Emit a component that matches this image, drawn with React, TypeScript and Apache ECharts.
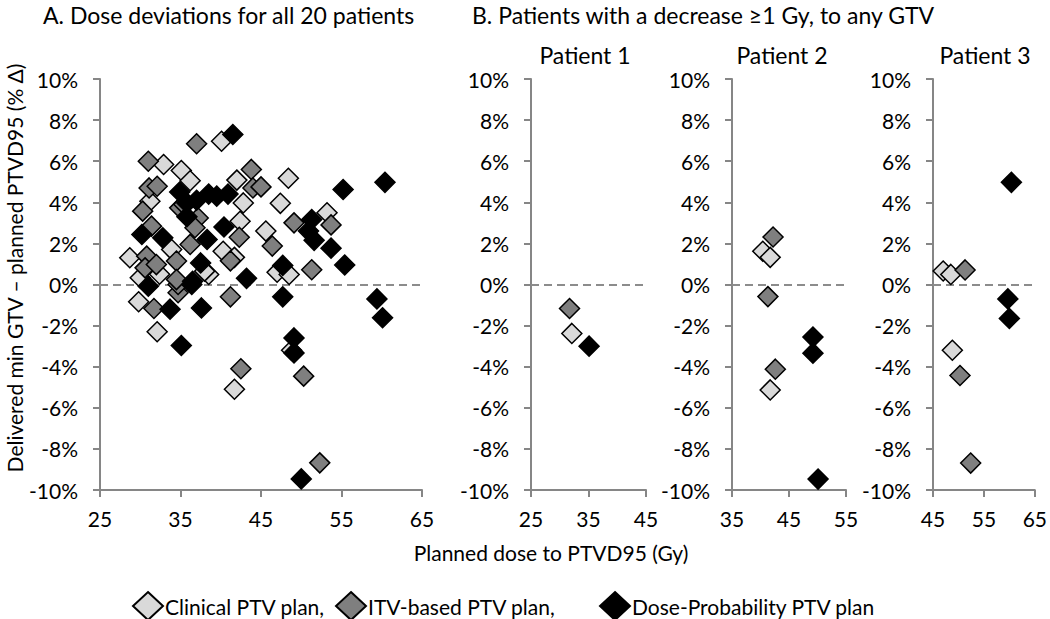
import React, { useEffect, useRef } from "react";
import * as echarts from "echarts";

// Panel A: all 20 patients (x = planned dose Gy, y = % deviation)
const clinicalAll: number[][] = [
  [29.8, -0.84], [32.1, -2.3], [41.7, -5.1], [48.8, -3.2], [40.1, 6.97], [32.9, 5.84],
  [35.1, 5.55], [36.2, 5.05], [31.2, 4.05], [42.0, 5.08], [48.4, 5.17], [42.8, 3.97],
  [47.4, 3.95], [42.4, 3.08], [45.6, 2.6], [53.2, 3.49], [40.3, 1.62], [41.7, 1.32],
  [38.5, 0.49], [47.0, 0.6], [48.5, 0.49], [28.7, 1.3], [30.0, 0.33], [33.9, 1.7],
  [32.4, 0.5], [38.0, 0.65],
];
const itvAll: number[][] = [
  [31.7, -1.17], [34.7, -0.4], [34.7, 0.0], [41.2, -0.6], [42.5, -4.1], [50.3, -4.46],
  [52.3, -8.68], [37.0, 6.85], [43.8, 5.6], [44.0, 4.7], [45.0, 4.75], [31.0, 6.0],
  [31.1, 4.7], [32.1, 4.78], [30.3, 3.57], [34.9, 3.73], [37.2, 3.24], [42.3, 2.3],
  [46.4, 1.87], [49.1, 3.0], [53.7, 2.9], [51.3, 0.72], [41.2, 1.15], [30.8, 1.38],
  [30.6, 0.81], [32.0, 0.97], [34.5, 1.14], [35.4, 3.9], [36.8, 2.76], [36.2, 1.95],
  [34.5, 0.24], [31.4, 2.84],
];
const dpAll: number[][] = [
  [31.0, -0.08], [33.7, -1.2], [36.4, 0.0], [37.6, -1.14], [35.1, -2.97], [43.2, 0.3],
  [47.7, -0.6], [49.1, -2.6], [49.1, -3.33], [50.0, -9.46], [59.4, -0.7], [60.1, -1.62],
  [60.4, 4.97], [41.5, 7.3], [55.2, 4.62], [38.5, 4.4], [40.9, 4.4], [34.9, 4.5],
  [35.8, 3.97], [37.0, 4.1], [39.5, 4.3], [35.8, 3.3], [40.4, 2.8], [38.3, 2.19],
  [30.2, 2.43], [32.8, 2.27], [37.5, 1.05], [36.5, 0.16], [51.3, 3.16], [50.9, 2.6],
  [51.6, 2.15], [53.7, 1.77], [55.4, 0.95], [47.7, 0.93],
];

// Panel B: patients with a decrease >= 1 Gy
const p1Clinical = [[32.1, -2.38]];
const p1Itv = [[31.7, -1.17]];
const p1Dp = [[35.1, -3.0]];
const p2Clinical = [[40.4, 1.62], [41.7, 1.32], [41.7, -5.13]];
const p2Itv = [[42.2, 2.31], [41.3, -0.59], [42.6, -4.12]];
const p2Dp = [[49.2, -2.56], [49.2, -3.34], [50.1, -9.47]];
const p3Clinical = [[47.0, 0.66], [48.5, 0.49], [48.8, -3.2]];
const p3Itv = [[51.3, 0.71], [50.3, -4.43], [52.4, -8.69]];
const p3Dp = [[60.4, 4.97], [59.7, -0.7], [60.0, -1.65]];

const seriesNames = ["Clinical PTV plan,", "ITV-based PTV plan,", "Dose-Probability PTV plan"];
const seriesColors = ["#d9d9d9", "#7f7f7f", "#000000"];
const xRanges = [[25, 65], [25, 45], [35, 55], [45, 65]];
const xTicks = [[25, 35, 45, 55, 65], [25, 35, 45], [35, 45, 55], [45, 55, 65]];
const yTicks = [-10, -8, -6, -4, -2, 0, 2, 4, 6, 8, 10];
const panelTitles = ["Patient 1", "Patient 2", "Patient 3"];

const FONT = "Lato";

export default function App() {
  const ref = useRef<HTMLDivElement>(null);
  useEffect(() => {
    if (!ref.current) return;
    const chart = echarts.init(ref.current, undefined, { renderer: "svg" });
    const grids = [
      { left: 100, top: 79, width: 322, height: 411 },
      { left: 531, top: 79, width: 115, height: 411 },
      { left: 732, top: 79, width: 114, height: 411 },
      { left: 933, top: 79, width: 114, height: 411 },
    ];
    const panelData = [
      [clinicalAll, itvAll, dpAll],
      [p1Clinical, p1Itv, p1Dp],
      [p2Clinical, p2Itv, p2Dp],
      [p3Clinical, p3Itv, p3Dp],
    ];
    const axisLine = { lineStyle: { color: "#868686", width: 2 } };
    const axisTick = { inside: false, length: 7, lineStyle: { color: "#868686", width: 2 } };
    const labelStyle = { color: "#000", fontFamily: FONT, fontSize: 21 };
    const xAxis = grids.map((_, i) => ({
      type: "value",
      gridIndex: i,
      min: xRanges[i][0],
      max: xRanges[i][1],
      axisLine: { ...axisLine, onZero: false },
      axisTick: { ...axisTick, customValues: xTicks[i] },
      axisLabel: { ...labelStyle, margin: 18, customValues: xTicks[i], showMaxLabel: true, showMinLabel: true },
      splitLine: { show: false },
    }));
    const yAxis = grids.map((_, i) => ({
      type: "value",
      gridIndex: i,
      min: -10,
      max: 10,
      axisLine: { ...axisLine, show: true, onZero: false },
      axisTick: { ...axisTick, show: true, customValues: yTicks },
      axisLabel: { ...labelStyle, margin: 22, customValues: yTicks, formatter: (v: number) => `${v}%` },
      splitLine: { show: false },
    }));
    const series: any[] = [];
    panelData.forEach((sets, gi) => {
      sets.forEach((d, si) => {
        series.push({
          type: "scatter",
          name: seriesNames[si],
          xAxisIndex: gi,
          yAxisIndex: gi,
          data: d,
          symbol: "diamond",
          symbolSize: 20,
          z: 2 + si,
          itemStyle: { color: seriesColors[si], borderColor: "#000", borderWidth: 1.5, opacity: 1 },
          emphasis: { disabled: true },
          markLine:
            si === 0
              ? {
                  silent: true,
                  symbol: "none",
                  label: { show: false },
                  lineStyle: { color: "#8c8c8c", type: [8, 5], width: 2 },
                  data: [{ yAxis: 0 }],
                  z: 1,
                }
              : undefined,
        });
      });
    });
    const textStyle = (t: string, size: number, extra: any = {}) => ({
      text: t,
      fill: "#000",
      fontFamily: FONT,
      fontSize: size,
      ...extra,
    });
    const legendLefts = [127, 330, 594];
    chart.setOption({
      animation: false,
      grid: grids,
      xAxis,
      yAxis,
      series,
      legend: seriesNames.map((n, i) => ({
        data: [n],
        left: legendLefts[i],
        top: 586,
        icon: "diamond",
        itemWidth: 30,
        itemHeight: 28,
        textStyle: { color: "#000", fontFamily: FONT, fontSize: 21, padding: [0, 0, 0, -3] },
        selectedMode: false,
      })),
      graphic: [
        {
          type: "text",
          x: 43,
          y: 15,
          style: textStyle("A. Dose deviations for all 20 patients", 23, { verticalAlign: "middle" }),
        },
        {
          type: "text",
          x: 472,
          y: 15,
          style: textStyle("B. Patients with a decrease \u22651 Gy, to any GTV", 23, { verticalAlign: "middle" }),
        },
        ...panelTitles.map((t, i) => ({
          type: "text",
          x: [585, 782, 985][i],
          y: 55,
          style: textStyle(t, 23, { align: "center", verticalAlign: "middle" }),
        })),
        {
          type: "text",
          x: 14,
          y: 268,
          rotation: Math.PI / 2,
          style: textStyle("Delivered min GTV \u2013 planned PTVD95 (% \u0394)", 21, { align: "center", verticalAlign: "middle" }),
        },
        {
          type: "text",
          x: 551,
          y: 552,
          style: textStyle("Planned dose to PTVD95 (Gy)", 21, { align: "center", verticalAlign: "middle" }),
        },
      ],
    });
    return () => chart.dispose();
  }, []);
  return (
    <div style={{ position: "fixed", left: 0, top: 0, width: 1050, height: 619, background: "#fff" }}>
      <div ref={ref} style={{ width: 1050, height: 619 }} />
    </div>
  );
}
